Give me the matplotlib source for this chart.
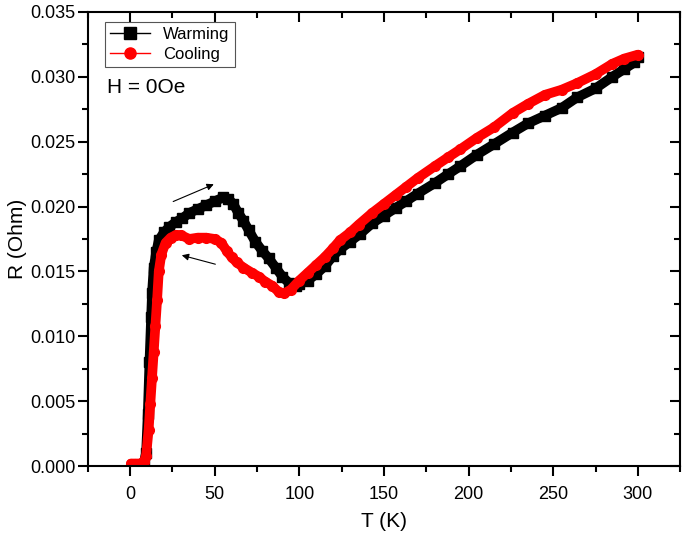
import matplotlib.pyplot as plt
from matplotlib.lines import Line2D
from matplotlib.ticker import MultipleLocator

plt.rcParams['font.family'] = ['Liberation Sans', 'DejaVu Sans']

# warming run (black squares)
T_warm = [2, 5, 8, 9.5, 10.5, 11.5, 12.5, 13, 14, 15.5, 17, 20, 23, 27, 31, 35, 40, 45,
          50, 55, 58, 61, 64, 67, 70, 74, 78, 82, 86, 90, 94, 98, 100, 105, 110, 115,
          120, 124, 130, 136, 143, 150, 157, 163, 170, 180, 188, 195, 205, 215, 226,
          235, 245, 255, 264, 275, 285, 292, 298, 300]
R_warm = [0.0001, 0.0001, 0.0002, 0.0010, 0.0040, 0.0080, 0.0115, 0.0133, 0.0153, 0.0165,
          0.0174, 0.0180, 0.0184, 0.0188, 0.0191, 0.0195, 0.0198, 0.0201, 0.0204, 0.0207,
          0.0206, 0.0202, 0.0195, 0.0189, 0.0182, 0.0173, 0.0166, 0.0160, 0.0153, 0.0146,
          0.0141, 0.0139, 0.0140, 0.0143, 0.0148, 0.0154, 0.0162, 0.0167, 0.0173, 0.0179,
          0.0187, 0.0193, 0.0199, 0.0204, 0.0210, 0.0218, 0.0225, 0.0231, 0.0240, 0.0248,
          0.0257, 0.0264, 0.0270, 0.0276, 0.0284, 0.0291, 0.0300, 0.0306, 0.0311, 0.0315]

# cooling run (red circles)
T_cool = [0.5, 3, 6, 8, 9.5, 11, 12, 13, 14, 15, 16, 17, 18.5, 21, 24, 27, 30, 35, 40, 45,
          50, 54, 57, 60, 63, 67, 72, 76, 80, 84, 88, 91, 95, 100, 105, 110, 115, 120,
          124, 130, 135, 143, 150, 157, 163, 170, 180, 188, 195, 205, 215, 226, 235, 245,
          255, 264, 275, 285, 292, 300]
R_cool = [0.0002, 0.0002, 0.0002, 0.0003, 0.0008, 0.0028, 0.0048, 0.0068, 0.0088, 0.0108,
          0.0128, 0.0150, 0.0163, 0.0172, 0.0176, 0.0178, 0.0178, 0.0175, 0.0176, 0.0176,
          0.0175, 0.0172, 0.0166, 0.0161, 0.0157, 0.0153, 0.0149, 0.0146, 0.0142, 0.0139,
          0.0134, 0.0133, 0.0136, 0.0143, 0.0149, 0.0155, 0.0161, 0.0168, 0.0174, 0.0180,
          0.0186, 0.0195, 0.0202, 0.0209, 0.0215, 0.0222, 0.0231, 0.0238, 0.0244, 0.0253,
          0.0261, 0.0272, 0.0279, 0.0286, 0.0290, 0.0295, 0.0302, 0.0310, 0.0314, 0.0317]

fig = plt.figure(figsize=(6.85, 5.37), dpi=100)
ax = fig.add_axes([0.128, 0.132, 0.865, 0.846])

ax.plot(T_warm, R_warm, color='black', lw=7, marker='s', ms=7,
        solid_joinstyle='round', solid_capstyle='round')
ax.plot(T_cool, R_cool, color='red', lw=7, marker='o', ms=7,
        solid_joinstyle='round', solid_capstyle='round')

# direction arrows
ax.annotate('', xy=(51, 0.0218), xytext=(24, 0.0203),
            arrowprops=dict(arrowstyle='-|>', color='black', lw=0.8, mutation_scale=10))
ax.annotate('', xy=(29, 0.0163), xytext=(52, 0.0155),
            arrowprops=dict(arrowstyle='-|>', color='black', lw=0.8, mutation_scale=10))

ax.set_xlim(-25, 325)
ax.set_ylim(0, 0.035)
ax.xaxis.set_major_locator(MultipleLocator(50))
ax.xaxis.set_minor_locator(MultipleLocator(25))
ax.yaxis.set_major_locator(MultipleLocator(0.005))
ax.yaxis.set_minor_locator(MultipleLocator(0.0025))
ax.yaxis.set_major_formatter(plt.FormatStrFormatter('%.3f'))

for s in ax.spines.values():
    s.set_linewidth(1.5)
ax.tick_params(which='both', direction='out', width=1.5, labelsize=13)
ax.tick_params(which='major', length=7)
ax.tick_params(which='minor', length=4)
ax.tick_params(axis='x', which='major', pad=7)
ax.tick_params(axis='y', which='major', pad=2)
ax.tick_params(which='both', top=True, right=True, labeltop=False, labelright=False)
# top/right ticks point inward like the original
for t in ax.xaxis.get_ticklines(minor=False)[1::2] + ax.xaxis.get_ticklines(minor=True)[1::2]:
    t.set_marker(3)
for t in ax.yaxis.get_ticklines(minor=False)[1::2] + ax.yaxis.get_ticklines(minor=True)[1::2]:
    t.set_marker(0)

ax.set_xlabel('T (K)', fontsize=15, labelpad=7)
ax.set_ylabel('R (Ohm)', fontsize=15, labelpad=2)

handles = [Line2D([], [], color='black', lw=1, marker='s', ms=8),
           Line2D([], [], color='red', lw=1, marker='o', ms=8)]
leg = ax.legend(handles, ['Warming', 'Cooling'], loc='upper left',
                bbox_to_anchor=(0.029, 0.978), borderaxespad=0, fontsize=12,
                fancybox=False, framealpha=1, edgecolor='#555555',
                handlelength=2.4, labelspacing=0.3, borderpad=0.3)
leg.get_frame().set_linewidth(0.8)

ax.text(0.032, 0.833, 'H = 0Oe', transform=ax.transAxes, fontsize=15, va='center')

fig.savefig('out.png', dpi=100)
